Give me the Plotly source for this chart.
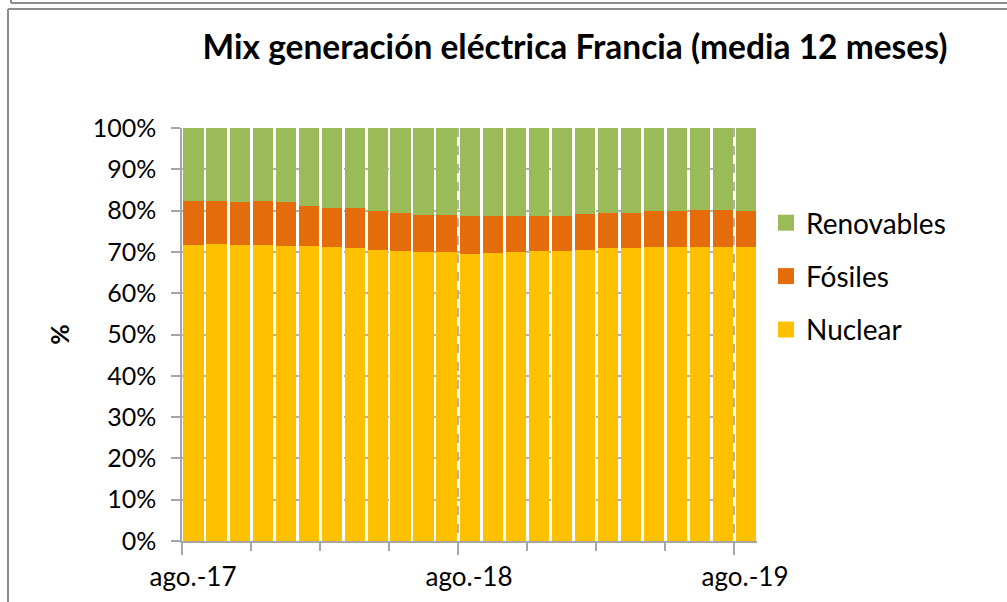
import plotly.graph_objects as go

months = ["ago.-17", "sep.-17", "oct.-17", "nov.-17", "dic.-17", "ene.-18", "feb.-18",
          "mar.-18", "abr.-18", "may.-18", "jun.-18", "jul.-18", "ago.-18", "sep.-18",
          "oct.-18", "nov.-18", "dic.-18", "ene.-19", "feb.-19", "mar.-19", "abr.-19",
          "may.-19", "jun.-19", "jul.-19", "ago.-19"]
nuclear = [71.6, 71.8, 71.6, 71.6, 71.5, 71.4, 71.1, 71.0, 70.4, 70.2, 69.9, 69.9, 69.6,
           69.8, 69.9, 70.2, 70.3, 70.4, 70.9, 71.0, 71.1, 71.2, 71.2, 71.1, 71.1]
fosiles = [10.8, 10.6, 10.6, 10.8, 10.5, 9.7, 9.5, 9.6, 9.4, 9.2, 9.1, 9.1, 9.2,
           8.9, 8.8, 8.5, 8.3, 8.8, 8.6, 8.3, 8.7, 8.8, 8.9, 9.0, 8.9]
renovables = [17.6, 17.6, 17.8, 17.6, 18.0, 18.9, 19.4, 19.4, 20.2, 20.6, 21.0, 21.0, 21.2,
              21.3, 21.3, 21.3, 21.4, 20.8, 20.5, 20.7, 20.2, 20.0, 19.9, 19.9, 20.0]
yticks = [0, 10, 20, 30, 40, 50, 60, 70, 80, 90, 100]
ytick_labels = [f"{v}%" for v in yticks]

x = list(range(len(months)))
FONT = "Lato"

series = [("Nuclear", nuclear, "#FFC000"),
          ("Fósiles", fosiles, "#E46C0A"),
          ("Renovables", renovables, "#9BBB59")]

fig = go.Figure()
# legend entries with larger square swatches (top to bottom: Renovables, Fósiles, Nuclear)
for name, vals, color in reversed(series):
    fig.add_trace(go.Scatter(x=[None], y=[None], mode="markers", name=name,
                             legendgroup="leg_" + name, showlegend=True, hoverinfo="skip",
                             marker=dict(symbol="square", size=16, color=color)))
for name, vals, color in series:
    fig.add_trace(go.Bar(x=x, y=vals, name=name, marker=dict(color=color, line=dict(width=0)),
                         customdata=months, showlegend=False,
                         hovertemplate="%{customdata}<br>" + name + ": %{y:.1f}%<extra></extra>"))

L, R, T, B = 182, 757, 128, 541
W, H = 1007, 602

def px_x(p):
    return (p - L) / (R - L)

def px_y(p):
    return (B - p) / (B - T)

major = [-0.5, 11.5, 23.5]
minor = [v for v in [i * 3 - 0.5 for i in range(9)] if v not in major]

fig.update_layout(
    width=W, height=H,
    barmode="stack", bargap=0.13,
    plot_bgcolor="white", paper_bgcolor="white",
    margin=dict(l=L, r=W - R, t=T, b=H - B, autoexpand=False),
    font=dict(family=FONT, color="#000000", size=24),
    title=dict(text="<b>Mix generación eléctrica Francia (media 12 meses)</b>",
               x=575 / W, xref="container", xanchor="center",
               y=1 - 47 / H, yref="container", yanchor="middle",
               font=dict(family=FONT, size=33.5, color="#000000")),
    showlegend=True,
    legend=dict(x=px_x(766), y=px_y(198), xanchor="left", yanchor="top",
                traceorder="grouped", tracegroupgap=14, itemsizing="trace",
                font=dict(family=FONT, size=28, color="#000000"),
                bgcolor="rgba(0,0,0,0)"),
    xaxis=dict(range=[-0.5, len(months) - 0.5], tickmode="array",
               tickvals=major, ticktext=[months[0], months[12], months[24]],
               ticklabelshift=11, ticks="outside", ticklen=12, tickwidth=1.5,
               tickcolor="#A6A6A6", showline=True, linecolor="#A6A6A6", linewidth=1.5,
               showgrid=True, gridcolor="#B0B0B0", griddash="dash", gridwidth=1.5,
               zeroline=False, tickfont=dict(family=FONT, size=26, color="#000000"),
               minor=dict(tickmode="array", tickvals=minor, ticks="outside", ticklen=8,
                          tickwidth=1.5, tickcolor="#A6A6A6", showgrid=False)),
    yaxis=dict(range=[0, 100], tickmode="array", tickvals=yticks, ticktext=ytick_labels,
               ticks="outside", ticklen=9, tickwidth=1.5, tickcolor="#A6A6A6",
               showline=True, linecolor="#A6A6A6", linewidth=1.5,
               showgrid=True, gridcolor="#B0B0B0", griddash="dash", gridwidth=1.5,
               zeroline=False, tickfont=dict(family=FONT, size=25, color="#000000"),
               ticklabelstandoff=10,
               title=dict(text="<b>%</b>", font=dict(family=FONT, size=25, color="#000000"),
                          standoff=16)),
    shapes=[
        dict(type="line", xref="paper", yref="paper", x0=px_x(11), x1=px_x(W + 5),
             y0=px_y(3), y1=px_y(3), line=dict(color="#8C8C8C", width=2)),
        dict(type="line", xref="paper", yref="paper", x0=px_x(11), x1=px_x(11),
             y0=px_y(-5), y1=px_y(3), line=dict(color="#8C8C8C", width=2)),
        dict(type="line", xref="paper", yref="paper", x0=px_x(8), x1=px_x(W + 5),
             y0=px_y(9), y1=px_y(9), line=dict(color="#8C8C8C", width=2)),
        dict(type="line", xref="paper", yref="paper", x0=px_x(8), x1=px_x(8),
             y0=px_y(9), y1=px_y(H + 5), line=dict(color="#8C8C8C", width=2)),
    ],
)

fig.write_html("out.html", config={"displayModeBar": False},
               post_script="document.body.style.margin='0';document.body.style.overflow='hidden';")
